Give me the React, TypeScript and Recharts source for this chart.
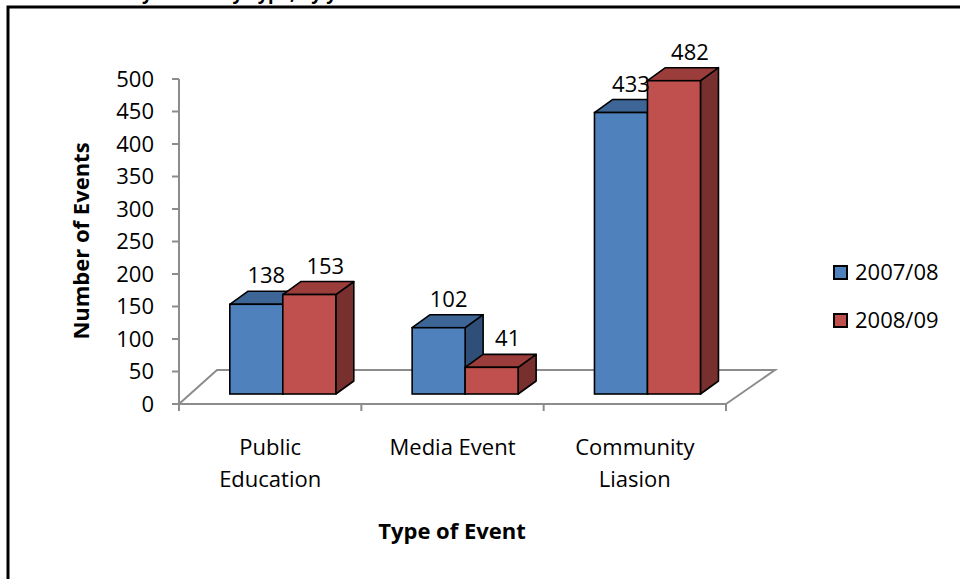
import React from 'react';
import { BarChart, Bar, XAxis, YAxis, LabelList } from 'recharts';

// ---- data ----
const categories = ['Public Education', 'Media Event', 'Community Liasion'];
const categoryLines = [['Public', 'Education'], ['Media Event'], ['Community', 'Liasion']];
const series2007 = [138, 102, 433];
const series2008 = [153, 41, 482];
const seriesNames = ['2007/08', '2008/09'];
const yTicks = [0, 50, 100, 150, 200, 250, 300, 350, 400, 450, 500];
const titleText = 'Community Events by Type, by year';
const yTitle = 'Number of Events';
const xTitle = 'Type of Event';

const data = categories.map((c, i) => ({ category: c, s1: series2007[i], s2: series2008[i] }));

// ---- layout ----
const W = 960;
const H = 579;
const PLOT_LEFT = 179;
const PLOT_RIGHT = 726;
const PLOT_TOP = 79;
const PLOT_BOTTOM = 404;
const Y_AXIS_W = 60;
const X_AXIS_H = 30;
const margin = {
  top: PLOT_TOP,
  right: W - PLOT_RIGHT,
  bottom: H - PLOT_BOTTOM - X_AXIS_H,
  left: PLOT_LEFT - Y_AXIS_W,
};
const FONT = "'Open Sans', sans-serif";

// 3D box offsets
const SHIFT_X = 12.8;
const SHIFT_Y = -10;
const DEPTH_X = 18;
const DEPTH_Y = -13;

const palette = [
  { front: '#4F81BD', top: '#3D6596', side: '#2F4F78' },
  { front: '#C0504D', top: '#9A3D3B', side: '#78302E' },
];
const labelShift = [10, 16];

const makeBox = (colors: { front: string; top: string; side: string }) => (props: any) => {
  const { x, y, width, height } = props;
  if (x == null || y == null) return null;
  const fx = x + SHIFT_X;
  const fy = y + SHIFT_Y;
  const fw = width;
  const fh = height;
  const sw = 1.6;
  return (
    <g>
      <polygon
        points={`${fx + fw},${fy} ${fx + fw + DEPTH_X},${fy + DEPTH_Y} ${fx + fw + DEPTH_X},${fy + fh + DEPTH_Y} ${fx + fw},${fy + fh}`}
        fill={colors.side}
        stroke="#000"
        strokeWidth={sw}
        strokeLinejoin="round"
      />
      <polygon
        points={`${fx},${fy} ${fx + DEPTH_X},${fy + DEPTH_Y} ${fx + fw + DEPTH_X},${fy + DEPTH_Y} ${fx + fw},${fy}`}
        fill={colors.top}
        stroke="#000"
        strokeWidth={sw}
        strokeLinejoin="round"
      />
      <rect x={fx} y={fy} width={fw} height={fh} fill={colors.front} stroke="#000" strokeWidth={sw} />
    </g>
  );
};

const makeLabel = (shift: number) => (props: any) => {
  const { x, y, width, value } = props;
  return (
    <text
      x={x + width / 2 + SHIFT_X + shift}
      y={y + SHIFT_Y - 21}
      textAnchor="middle"
      fontFamily={FONT}
      fontSize={22}
      fill="#000"
    >
      {value}
    </text>
  );
};

const CatTick = (props: any) => {
  const { x, y, payload } = props;
  const lines = categoryLines[payload.index] || [payload.value];
  return (
    <text x={x} y={y} textAnchor="middle" fontFamily={FONT} fontSize={22} fill="#000">
      {lines.map((l: string, i: number) => (
        <tspan key={i} x={x} dy={i === 0 ? 51 : 32}>
          {l}
        </tspan>
      ))}
    </text>
  );
};

const Background = () => {
  const band = (PLOT_RIGHT - PLOT_LEFT) / categories.length;
  const boundaries = Array.from({ length: categories.length + 1 }, (_, i) => PLOT_LEFT + band * i);
  const backY = PLOT_BOTTOM - 34;
  return (
    <svg width={W} height={H} style={{ position: 'absolute', left: 0, top: 0 }}>
      <rect x={0} y={0} width={W} height={H} fill="#fff" />
      <text x={47} y={0} fontFamily={FONT} fontWeight="bold" fontSize={18} fill="#000">
        {titleText}
      </text>
      <path d={`M8,${H} L8,7 L${W},7`} fill="none" stroke="#000" strokeWidth={3} />
      {/* floor */}
      <path
        d={`M${PLOT_LEFT},${PLOT_BOTTOM} L${PLOT_LEFT + 38},${backY} L${PLOT_RIGHT + 49},${backY} L${PLOT_RIGHT},${PLOT_BOTTOM}`}
        fill="none"
        stroke="#8C8C8C"
        strokeWidth={2}
      />
      <line x1={PLOT_LEFT} y1={PLOT_BOTTOM} x2={PLOT_RIGHT} y2={PLOT_BOTTOM} stroke="#8C8C8C" strokeWidth={2} />
      {boundaries.map((bx, i) => (
        <line key={i} x1={bx} y1={PLOT_BOTTOM} x2={bx} y2={PLOT_BOTTOM + 7} stroke="#8C8C8C" strokeWidth={2} />
      ))}
      {/* axis titles */}
      <text
        x={0}
        y={0}
        transform={`translate(89, 241) rotate(-90)`}
        textAnchor="middle"
        fontFamily={FONT}
        fontWeight="bold"
        fontSize={22}
        fill="#000"
      >
        {yTitle}
      </text>
      <text x={452} y={539} textAnchor="middle" fontFamily={FONT} fontWeight="bold" fontSize={22} fill="#000">
        {xTitle}
      </text>
      {/* legend */}
      {seriesNames.map((n, i) => (
        <g key={n}>
          <rect x={834} y={266 + i * 48} width={13} height={13} fill={palette[i].front} stroke="#000" strokeWidth={2} />
          <text x={855} y={280 + i * 48} fontFamily={FONT} fontSize={22} fill="#000">
            {n}
          </text>
        </g>
      ))}
    </svg>
  );
};

export default function App() {
  return (
    <div style={{ position: 'absolute', left: 0, top: 0, width: W, height: H }}>
      <Background />
      <div style={{ position: 'absolute', left: 0, top: 0 }}>
        <BarChart width={W} height={H} data={data} margin={margin} barGap={0} barSize={53}>
          <XAxis
            dataKey="category"
            axisLine={false}
            tickLine={false}
            tickSize={0}
            tickMargin={0}
            height={X_AXIS_H}
            interval={0}
            tick={<CatTick />}
          />
          <YAxis
            domain={[0, 500]}
            ticks={yTicks}
            interval={0}
            width={Y_AXIS_W}
            axisLine={{ stroke: '#8C8C8C', strokeWidth: 2 }}
            tickLine={{ stroke: '#8C8C8C', strokeWidth: 2 }}
            tickSize={7}
            tickMargin={18}
            tick={{ fontFamily: FONT, fontSize: 22, fill: '#000' }}
          />
          <Bar dataKey="s1" name={seriesNames[0]} isAnimationActive={false} shape={makeBox(palette[0])}>
            <LabelList dataKey="s1" content={makeLabel(labelShift[0])} />
          </Bar>
          <Bar dataKey="s2" name={seriesNames[1]} isAnimationActive={false} shape={makeBox(palette[1])}>
            <LabelList dataKey="s2" content={makeLabel(labelShift[1])} />
          </Bar>
        </BarChart>
      </div>
    </div>
  );
}
